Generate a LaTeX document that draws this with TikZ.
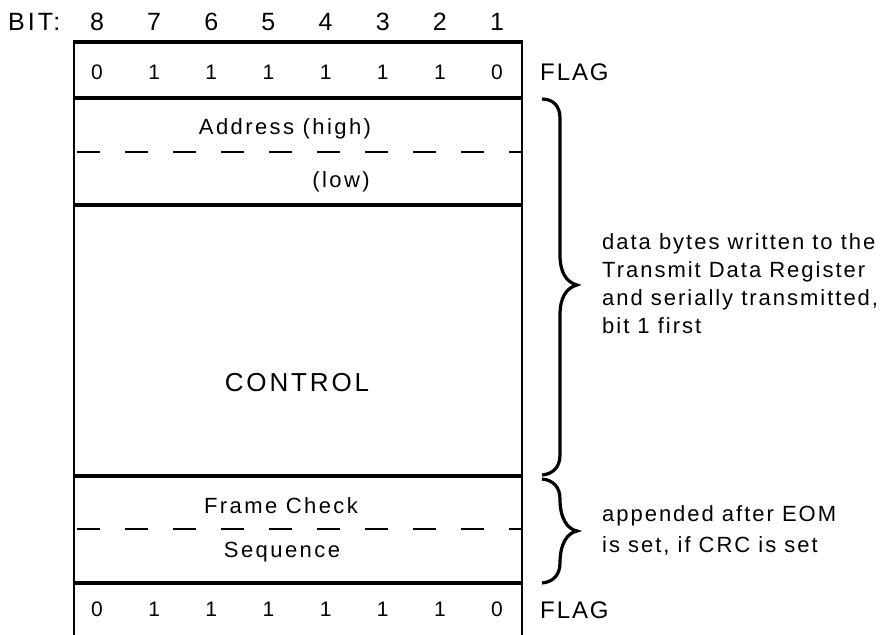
\documentclass[tikz,border=0pt]{standalone}
\usepackage{fontspec}
\setmainfont{Liberation Sans}
\newfontfamily\spA{Liberation Sans}[LetterSpace=8]
\newfontfamily\spB{Liberation Sans}[LetterSpace=11]
\newfontfamily\spN{Liberation Sans}[LetterSpace=9]
\newfontfamily\spC{Liberation Sans}[LetterSpace=12]
\begin{document}
\begin{tikzpicture}[x=1pt,y=-1pt,
  hline/.style={line width=3.1pt},
  vline/.style={line width=2.4pt},
  dline/.style={line width=2.5pt,dash pattern=on 23pt off 25pt},
  brace/.style={line width=3.2pt,line cap=butt},
  txt/.style={inner sep=0pt,anchor=base},
  bitlbl/.style={font=\spC\fontsize{25}{29}\selectfont},
  bitfont/.style={font=\spA\fontsize{25}{29}\selectfont},
  digfont/.style={font=\spA\fontsize{21}{25}\selectfont},
  flagfont/.style={font=\spA\fontsize{24}{28}\selectfont},
  lblfont/.style={font=\spB\fontsize{22}{26}\selectfont},
  bigfont/.style={font=\spB\fontsize{26}{30}\selectfont},
  notefont/.style={font=\spN\fontsize{22}{26}\selectfont},
]
\useasboundingbox (0,0) rectangle (887,635);
\clip (0,0) rectangle (887,635);
% frame
\coordinate (tl) at (74,41);
\coordinate (tr) at (522,41);
\coordinate (bl) at (74,640);
\coordinate (br) at (522,640);
\draw[vline] (tl) -- (bl);
\draw[vline] (tr) -- (br);
\draw[hline] (72.8,42) -- (523.2,42);
\draw[hline] (72.8,98) -- (523.2,98);
\draw[hline] (72.8,205) -- (523.2,205);
\draw[hline] (72.8,476) -- (523.2,476);
\draw[hline] (72.8,583) -- (523.2,583);
\draw[dline] (77,152) -- (522,152);
\draw[dline] (77,529) -- (522,529);
% bit header
\node[txt,bitlbl,anchor=base west] (bit) at (8,30) {BIT:};
\foreach \i/\b in {0/8,1/7,2/6,3/5,4/4,5/3,6/2,7/1}{
  \node[txt,bitfont] (b\b) at ({97+57.15*\i},30) {\b};
}
% flag rows
\foreach \i/\v in {0/0,1/1,2/1,3/1,4/1,5/1,6/1,7/0}{
  \node[txt,digfont] (ft\i) at ({97+57.15*\i},79) {\v};
  \node[txt,digfont] (fb\i) at ({97+57.15*\i},616) {\v};
}
\node[txt,flagfont,anchor=base west] (flagt) at (540,80) {FLAG};
\node[txt,flagfont,anchor=base west] (flagb) at (540,618) {FLAG};
% fields
\node[txt,lblfont] (addrh) at (285,134) {Address (high)};
\node[txt,lblfont] (addrl) at (341,187) {(low)};
\node[txt,bigfont] (ctrl) at (297,391) {CONTROL};
\node[txt,lblfont] (fcs1) at (281,513) {Frame Check};
\node[txt,lblfont] (fcs2) at (282,557) {Sequence};
% braces
\draw[brace] (542,99) .. controls (553,99) and (560,106) .. (560,118)
  -- (560,255) .. controls (560,272) and (566,282) .. (577,285)
  .. controls (566,288) and (560,298) .. (560,315)
  -- (560,455) .. controls (560,467) and (553,474) .. (542,475);
\draw[brace] (542,479) .. controls (553,480) and (560,487) .. (560,499)
  .. controls (560,518) and (567,529) .. (577,531)
  .. controls (567,533) and (560,544) .. (560,563)
  .. controls (560,575) and (553,582) .. (542,583);
% notes
\node[txt,notefont,anchor=base west] (n1) at (602,249) {data bytes written to the};
\node[txt,notefont,anchor=base west] (n2) at (602,277) {Transmit Data Register};
\node[txt,notefont,anchor=base west] (n3) at (602,305) {and serially transmitted,};
\node[txt,notefont,anchor=base west] (n4) at (602,333) {bit 1 first};
\node[txt,notefont,anchor=base west] (n5) at (602,521) {appended after EOM};
\node[txt,notefont,anchor=base west] (n6) at (602,552) {is set, if CRC is set};
\end{tikzpicture}
\end{document}
